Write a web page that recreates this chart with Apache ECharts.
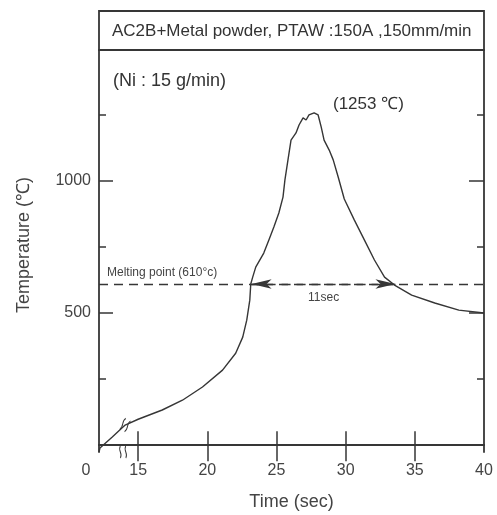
<!DOCTYPE html>
<html>
<head>
<meta charset="utf-8">
<style>
  html, body { margin: 0; padding: 0; background: #fff; }
  #chart { width: 497px; height: 515px; }
</style>
<script src="https://cdn.jsdelivr.net/npm/echarts@6/dist/echarts.min.js"></script>
</head>
<body>
<div id="chart"></div>
<script>
// time (sec), left of 15 is the broken part of the axis
var timeSec = [12.17, 12.24, 13.11, 14.06, 15.0, 16.74, 18.2, 19.65, 21.1, 22.05, 22.56, 22.85, 23.07,
  23.14, 23.28, 23.5, 24.08, 24.45, 24.81, 25.17, 25.47, 25.61, 25.83, 26.05, 26.41, 26.63, 26.92,
  27.14, 27.35, 27.72, 28.01, 28.23, 28.44, 28.81, 29.1, 29.46, 29.9, 30.63, 31.35, 32.08, 32.81,
  33.53, 34.77, 36.44, 38.18, 40.0]
var tempC = [-26, -11, 30, 76, 98, 133, 170, 220, 284, 348, 409, 473, 549,
  610, 636, 674, 727, 777, 826, 879, 939, 1004, 1080, 1155, 1182, 1212, 1239,
  1231, 1250, 1258, 1250, 1205, 1155, 1117, 1080, 1015, 932, 852, 777, 701, 636,
  606, 568, 538, 511, 500]

var xTickLabels = [12.17, 15, 20, 25, 30, 35, 40]
var xTicks = [15, 20, 25, 30, 35]
var yTickLabels = [500, 1000]
var yMinorTicks = [250, 750, 1250]

var meltingPoint = 610
var meltStart = 23.2
var meltEnd = 33.6

var ink = '#363636'
var font = 'Liberation Sans, Arial, sans-serif'

var chart = echarts.init(document.getElementById('chart'))

function yAx(pos, ticks, len, labels, line) {
  return {
    type: 'value', position: pos, min: -26, max: 1496,
    splitLine: { show: false },
    axisLine: { show: line, lineStyle: { color: ink, width: 1.8 } },
    axisTick: { inside: true, length: len, customValues: ticks, lineStyle: { color: ink, width: 1.5 } },
    axisLabel: labels ? {
      customValues: yTickLabels, color: '#444', fontSize: 16, fontFamily: font, margin: 8,
      formatter: function (v) { return String(v) }
    } : { show: false }
  }
}

var option = {
  animation: false,
  backgroundColor: '#fff',
  grid: { left: 99, right: 13, top: 50, bottom: 63, outerBoundsMode: 'none', containLabel: false },
  xAxis: [{
    type: 'value', min: 12.17, max: 40, position: 'bottom',
    name: 'Time (sec)', nameLocation: 'middle', nameGap: 41,
    nameTextStyle: { color: '#444', fontSize: 18, fontFamily: font },
    splitLine: { show: false },
    axisLine: { lineStyle: { color: ink, width: 1.8 } },
    axisTick: { inside: true, length: 14, customValues: xTicks, lineStyle: { color: ink, width: 1.5 } },
    axisLabel: {
      customValues: xTickLabels, color: '#444', fontSize: 16, fontFamily: font, margin: 11,
      formatter: function (v) { return v < 14 ? '{z|0}' : String(v) },
      rich: { z: { padding: [0, 26, 0, 0], fontSize: 16, color: '#444', fontFamily: font } }
    }
  }, {
    type: 'value', min: 12.17, max: 40, position: 'top',
    splitLine: { show: false },
    axisLine: { lineStyle: { color: ink, width: 1.8 } },
    axisTick: { inside: true, length: 16, customValues: xTicks, lineStyle: { color: ink, width: 1.5 } },
    axisLabel: { show: false }
  }],
  yAxis: [
    Object.assign(yAx('left', yTickLabels, 14, true, true), {
      name: 'Temperature (\u2103)', nameLocation: 'middle', nameGap: 66,
      nameTextStyle: { color: '#444', fontSize: 18, fontFamily: font, padding: [0, 0, 0, 12] }
    }),
    yAx('left', yMinorTicks, 7, false, false),
    yAx('right', yTickLabels, 15, false, true),
    yAx('right', yMinorTicks, 7, false, false)
  ],
  series: [{
    type: 'line',
    data: timeSec.map(function (t, i) { return [t, tempC[i]] }),
    showSymbol: false,
    lineStyle: { color: ink, width: 1.4 },
    markLine: {
      silent: true,
      label: { show: false },
      lineStyle: { color: ink, width: 1.3, type: [9, 6] },
      data: [
        [{ coord: [12.17, meltingPoint], symbol: 'none' }, { coord: [40, meltingPoint], symbol: 'none' }],
        [{ coord: [meltStart, meltingPoint], symbol: 'arrow', symbolSize: [7, 20] },
         { coord: [meltEnd, meltingPoint], symbol: 'arrow', symbolSize: [7, 20] }]
      ]
    },
    markPoint: {
      silent: true,
      symbol: 'path://M2,0 C0,3 4,5 2,8 M6,0 C4,3 8,5 6,8',
      symbolSize: [7, 12],
      itemStyle: { color: 'none', borderColor: ink, borderWidth: 1.2 },
      label: { show: false },
      data: [{ coord: [13.91, -26] }, { coord: [14.06, 76], symbolRotate: -30 }]
    }
  }],
  graphic: [
    { type: 'rect', shape: { x: 99, y: 11, width: 385, height: 39 },
      style: { fill: 'none', stroke: ink, lineWidth: 1.8 } },
    { type: 'text', x: 112, y: 31,
      style: { text: 'AC2B+Metal powder, PTAW :150A ,150mm/min', fill: '#333', font: '17px ' + font, textVerticalAlign: 'middle' } },
    { type: 'text', x: 113, y: 81,
      style: { text: '(Ni : 15 g/min)', fill: '#333', font: '18px ' + font, textVerticalAlign: 'middle' } },
    { type: 'text', x: 333, y: 104,
      style: { text: '(1253 \u2103)', fill: '#333', font: '17px ' + font, textVerticalAlign: 'middle' } },
    { type: 'text', x: 107, y: 273,
      style: { text: 'Melting point (610\u00b0c)', fill: '#444', font: '12px ' + font, textVerticalAlign: 'middle' } },
    { type: 'text', x: 308, y: 298,
      style: { text: '11sec', fill: '#444', font: '12px ' + font, textVerticalAlign: 'middle' } }
  ]
}
chart.setOption(option)
</script>
</body>
</html>
